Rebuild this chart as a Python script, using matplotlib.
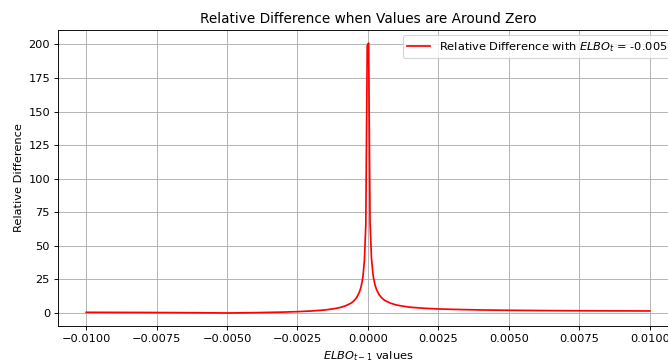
import matplotlib
matplotlib.use('Agg')
import matplotlib.pyplot as plt

# ELBO_{t-1} sample values and the relative difference against ELBO_t = -0.005
elbo_prev = [-0.0100, -0.0090, -0.0080, -0.0070, -0.0060, -0.0050, -0.0040,
             -0.0030, -0.0025, -0.0020, -0.0015, -0.0012, -0.0010, -0.0008,
             -0.0006, -0.0005, -0.0004, -0.0003, -0.00025, -0.0002,
             -0.000175, -0.000125, -0.000075, -0.000025,
             0.000025, 0.000075, 0.000125, 0.000175,
             0.0002, 0.00025, 0.0003, 0.0004, 0.0005, 0.0006, 0.0008,
             0.0010, 0.0012, 0.0015, 0.0020, 0.0025, 0.0030, 0.0040,
             0.0050, 0.0060, 0.0070, 0.0080, 0.0090, 0.0100]
rel_diff = [0.50, 0.44, 0.38, 0.29, 0.17, 0.0, 0.25,
            0.67, 1.0, 1.5, 2.3, 3.2, 4.0, 5.3,
            7.3, 9.0, 11.5, 15.7, 19.0, 24.0,
            27.6, 39.0, 65.7, 199.0,
            201.0, 67.7, 41.0, 29.6,
            26.0, 21.0, 17.7, 13.5, 11.0, 9.3, 7.3,
            6.0, 5.2, 4.3, 3.5, 3.0, 2.7, 2.25,
            2.0, 1.83, 1.71, 1.63, 1.56, 1.5]

dpi = 82
fig = plt.figure(figsize=(668 / dpi, 363 / dpi), dpi=dpi)
ax = fig.add_axes([0.0868, 0.1006, 0.928, 0.818])

ax.plot(elbo_prev, rel_diff, color='red',
        label='Relative Difference with $ELBO_t$ = -0.005')

ax.set_title('Relative Difference when Values are Around Zero')
ax.set_xlabel('$ELBO_{t-1}$ values')
ax.set_ylabel('Relative Difference')
ax.legend(loc='upper right')
ax.grid(True)

plt.savefig('out.png', dpi=dpi)
